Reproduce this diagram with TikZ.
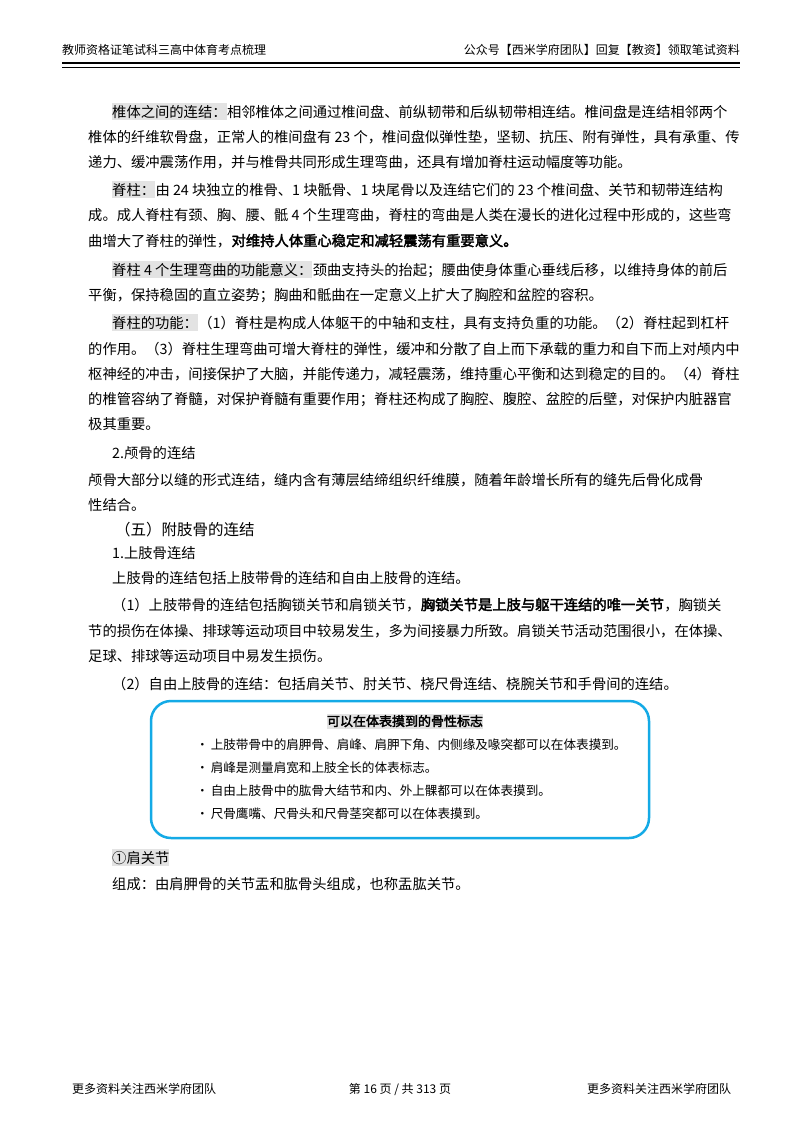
\documentclass[tikz,border=0pt]{standalone}
\usepackage{fontspec}
\setmainfont{Liberation Serif}
\newfontfamily\cjk{Noto Sans CJK SC}[AutoFakeBold=2.5]
\begin{document}
\begin{tikzpicture}[x=1pt,y=-1pt,
  t/.style={inner sep=0pt,anchor=base west,font=\cjk\fontsize{14.3}{16}\selectfont},
  hl/.style={t,fill=gray!22,inner ysep=1.5pt},
  sm/.style={inner sep=0pt,anchor=base west,font=\cjk\fontsize{12.6}{14}\selectfont},
  hd/.style={inner sep=0pt,font=\cjk\fontsize{12}{14}\selectfont}]
\useasboundingbox (0,0) rectangle (800,1132);
\fill[white] (0,0) rectangle (800,1132);
% header
\node[hd,anchor=base west] (h1) at (62,55) {教师资格证笔试科三高中体育考点梳理};
\node[hd,anchor=base east] (h2) at (740,55) {公众号【西米学府团队】回复【教资】领取笔试资料};
\draw[line width=2pt] (62,63.5) -- (740,63.5);
\draw[line width=0.6pt] (62,67.5) -- (740,67.5);
% para 1
\node[hl] (a1) at (112,117) {椎体之间的连结：};
\node[t] at (a1.base east) {相邻椎体之间通过椎间盘、前纵韧带和后纵韧带相连结。椎间盘是连结相邻两个};
\node[t] at (88,142) {椎体的纤维软骨盘，正常人的椎间盘有 23 个，椎间盘似弹性垫，坚韧、抗压、附有弹性，具有承重、传};
\node[t] at (88,167) {递力、缓冲震荡作用，并与椎骨共同形成生理弯曲，还具有增加脊柱运动幅度等功能。};
% para 2
\node[hl] (a2) at (112,195) {脊柱：};
\node[t] at (a2.base east) {由 24 块独立的椎骨、1 块骶骨、1 块尾骨以及连结它们的 23 个椎间盘、关节和韧带连结构};
\node[t] at (88,220) {成。成人脊柱有颈、胸、腰、骶 4 个生理弯曲，脊柱的弯曲是人类在漫长的进化过程中形成的，这些弯};
\node[t] (b1) at (88,246) {曲增大了脊柱的弹性，};
\node[t,font=\cjk\bfseries\fontsize{14.3}{16}\selectfont] at (b1.base east) {对维持人体重心稳定和减轻震荡有重要意义。};
% para 3
\node[hl] (a3) at (112,275) {脊柱 4 个生理弯曲的功能意义：};
\node[t] at (a3.base east) {颈曲支持头的抬起；腰曲使身体重心垂线后移，以维持身体的前后};
\node[t] at (88,300) {平衡，保持稳固的直立姿势；胸曲和骶曲在一定意义上扩大了胸腔和盆腔的容积。};
% para 4
\node[hl] (a4) at (112,328) {脊柱的功能：};
\node[t] at (a4.base east) {（1）脊柱是构成人体躯干的中轴和支柱，具有支持负重的功能。（2）脊柱起到杠杆};
\node[t] at (88,354) {的作用。（3）脊柱生理弯曲可增大脊柱的弹性，缓冲和分散了自上而下承载的重力和自下而上对颅内中};
\node[t] at (88,379) {枢神经的冲击，间接保护了大脑，并能传递力，减轻震荡，维持重心平衡和达到稳定的目的。（4）脊柱};
\node[t] at (88,404) {的椎管容纳了脊髓，对保护脊髓有重要作用；脊柱还构成了胸腔、腹腔、盆腔的后壁，对保护内脏器官};
\node[t] at (88,429) {极其重要。};
\node[t] at (112,458) {2.颅骨的连结};
\node[t] at (88,485) {颅骨大部分以缝的形式连结，缝内含有薄层结缔组织纤维膜，随着年龄增长所有的缝先后骨化成骨};
\node[t] at (88,510) {性结合。};
\node[t,font=\cjk\fontsize{15.5}{18}\selectfont] at (115,535) {（五）附肢骨的连结};
\node[t] at (112,558) {1.上肢骨连结};
\node[t] at (112,583) {上肢骨的连结包括上肢带骨的连结和自由上肢骨的连结。};
\node[t] (c1) at (112,610) {（1）上肢带骨的连结包括胸锁关节和肩锁关节，};
\node[t,font=\cjk\bfseries\fontsize{14.3}{16}\selectfont] (c2) at (c1.base east) {胸锁关节是上肢与躯干连结的唯一关节};
\node[t] at (c2.base east) {，胸锁关};
\node[t] at (88,636) {节的损伤在体操、排球等运动项目中较易发生，多为间接暴力所致。肩锁关节活动范围很小，在体操、};
\node[t] at (88,661) {足球、排球等运动项目中易发生损伤。};
\node[t] at (112,689) {（2）自由上肢骨的连结：包括肩关节、肘关节、桡尺骨连结、桡腕关节和手骨间的连结。};
% box
\draw[line width=2.5pt,draw={rgb,255:red,20;green,170;blue,230},rounded corners=20pt] (151,701) rectangle (649,838);
\node[sm,anchor=base,fill=gray!22,inner ysep=1.5pt,font=\cjk\bfseries\fontsize{13}{15}\selectfont] (bt) at (405,726) {可以在体表摸到的骨性标志};
\foreach \yy/\tx [count=\i] in {749/上肢带骨中的肩胛骨、肩峰、肩胛下角、内侧缘及喙突都可以在体表摸到。,
  772/肩峰是测量肩宽和上肢全长的体表标志。,
  795/自由上肢骨中的肱骨大结节和内、外上髁都可以在体表摸到。,
  818/尺骨鹰嘴、尺骨头和尺骨茎突都可以在体表摸到。}
  {\node[sm] (bl\i) at (196,\yy) {•\kern2pt\tx};}
% after box
\node[hl] (d1) at (112,863) {①肩关节};
\node[t] at (112,889) {组成：由肩胛骨的关节盂和肱骨头组成，也称盂肱关节。};
% footer
\node[hd,anchor=base west] (f1) at (72,1093) {更多资料关注西米学府团队};
\node[hd,anchor=base] (f2) at (400,1093) {第 16 页 / 共 313 页};
\node[hd,anchor=base west] (f3) at (587,1093) {更多资料关注西米学府团队};
\end{tikzpicture}
\end{document}
